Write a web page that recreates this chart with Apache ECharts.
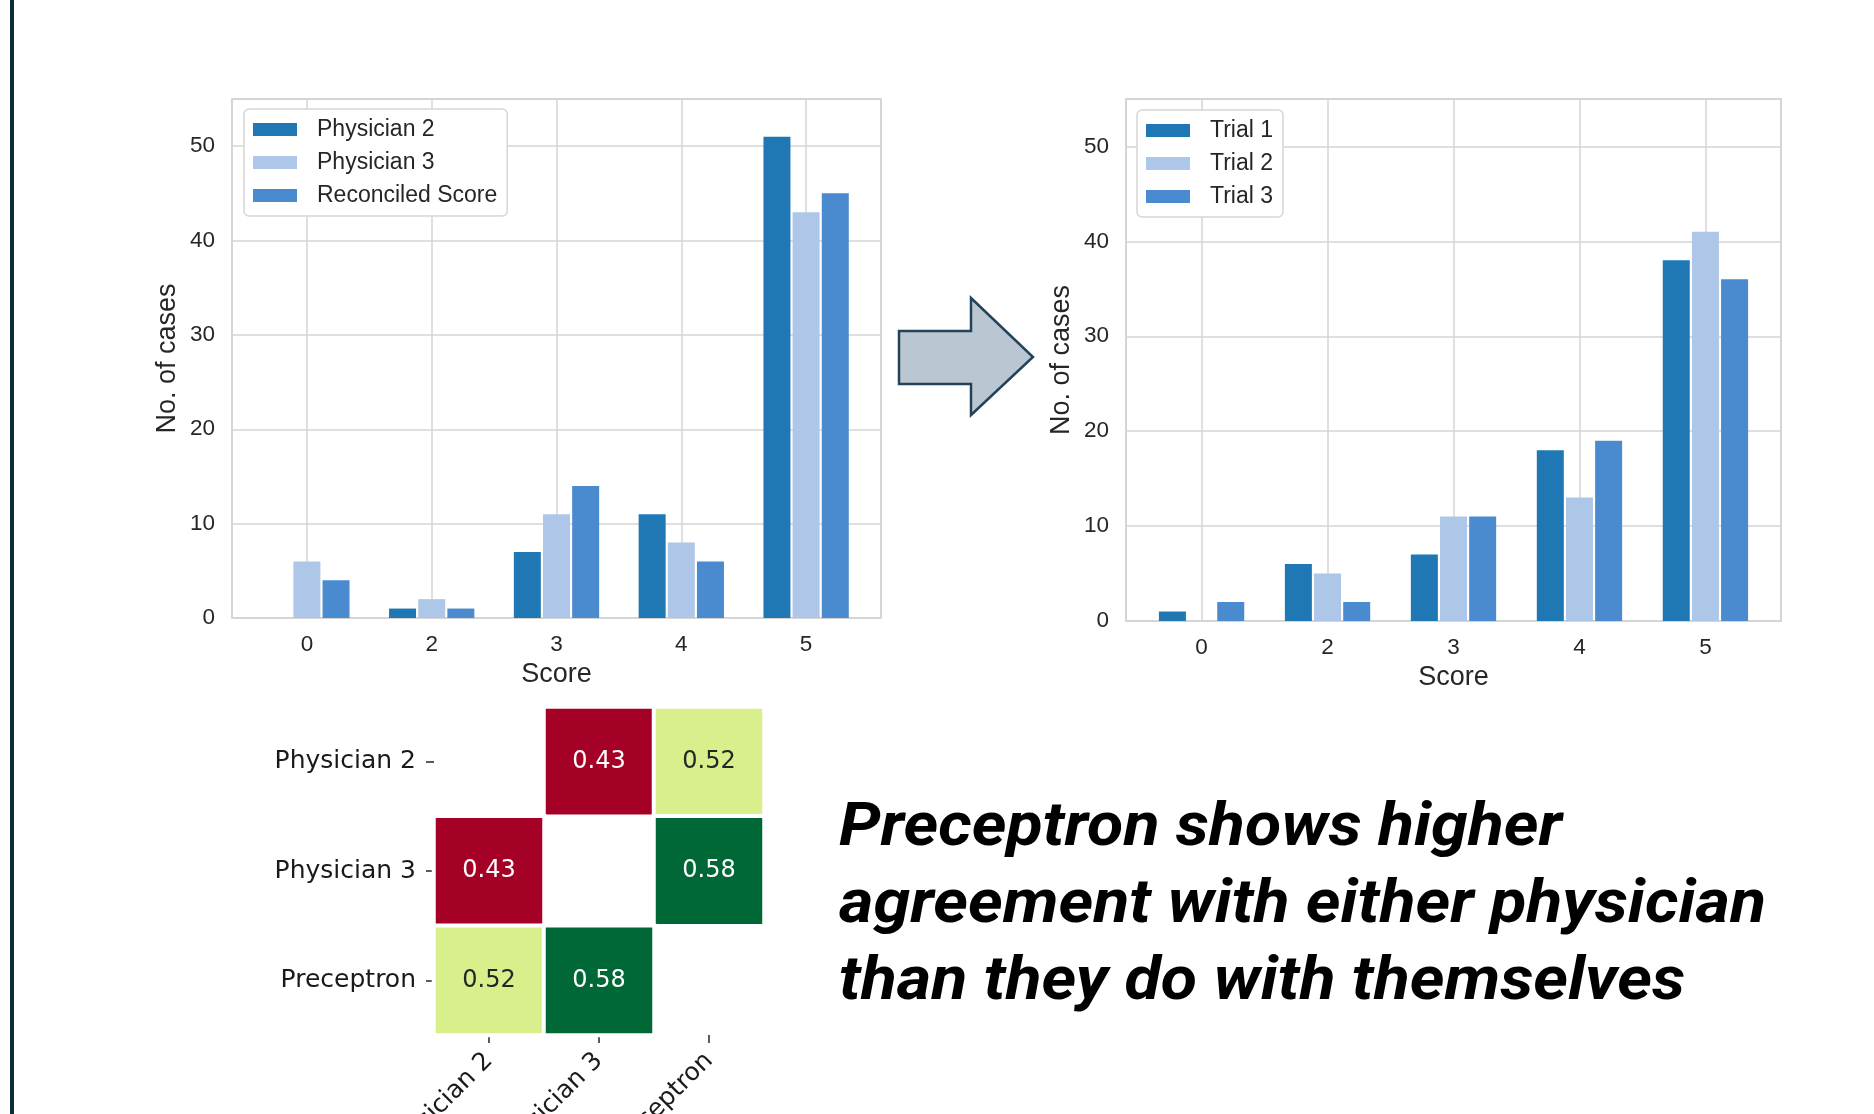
<!DOCTYPE html>
<html>
<head>
<meta charset="utf-8">
<script src="https://cdn.jsdelivr.net/npm/echarts@6/dist/echarts.min.js"></script>
<style>
  html, body { margin: 0; padding: 0; background: #ffffff; }
  #chart { width: 1874px; height: 1114px; }
</style>
</head>
<body>
<div id="chart"></div>
<script>
// Score categories shared by both histograms
const scoreLabels = ['0', '2', '3', '4', '5'];

// Human raters vs. reconciled score (cases per score)
const physician2 = [0, 1, 7, 11, 51];
const physician3 = [6, 2, 11, 8, 43];
const reconciled = [4, 1, 14, 6, 45];

// Repeated model runs (cases per score)
const trial1 = [1, 6, 7, 18, 38];
const trial2 = [0, 5, 11, 13, 41];
const trial3 = [2, 2, 11, 19, 36];

// Pairwise agreement between raters: [row, column, value]
const raters = ['Physician 2', 'Physician 3', 'Preceptron'];
const agreement = [
  [0, 1, 0.43], [0, 2, 0.52],
  [1, 0, 0.43], [1, 2, 0.58],
  [2, 0, 0.52], [2, 1, 0.58]
];

// Take-away statement
const headline = [
  'Preceptron shows higher',
  'agreement with either physician',
  'than they do with themselves'
];

const SANS = '"Liberation Sans", Arial, Helvetica, sans-serif';
const DEJAVU = '"DejaVu Sans", sans-serif';
const INK = '#262626';
const GRIDLINE = '#d5d5d5';
const BLUES = ['#1f77b4', '#aec7e8', '#4a8bcf'];
const RDYLGN = ['#a50026', '#d73027', '#f46d43', '#fdae61', '#fee08b', '#ffffbf',
                '#d9ef8b', '#a6d96a', '#66bd63', '#1a9850', '#006837'];

const chart = echarts.init(document.getElementById('chart'), null, { renderer: 'canvas' });

function scoreAxisX(gridIndex) {
  return {
    type: 'value', gridIndex, min: -0.6, max: 4.6, splitNumber: 5,
    axisLine: { show: false }, axisTick: { show: false },
    axisLabel: {
      fontSize: 22.5, color: INK, fontFamily: SANS, margin: 15,
      formatter: v => (Math.abs(v - Math.round(v)) < 1e-9 && scoreLabels[Math.round(v)] !== undefined)
        ? scoreLabels[Math.round(v)] : ''
    },
    splitLine: { show: true, lineStyle: { color: GRIDLINE, width: 1.5 } },
    name: 'Score', nameLocation: 'middle', nameGap: 43,
    nameTextStyle: { fontSize: 27, color: INK, fontFamily: SANS }
  };
}

function countAxisY(gridIndex) {
  return {
    type: 'value', gridIndex, min: 0, max: 55, interval: 10,
    axisLine: { show: false }, axisTick: { show: false },
    axisLabel: {
      fontSize: 22.5, color: INK, fontFamily: SANS, margin: 17,
      formatter: v => (v % 10 === 0 ? String(v) : '')
    },
    splitLine: { show: true, lineStyle: { color: GRIDLINE, width: 1.5 } },
    name: 'No. of cases', nameLocation: 'middle', nameGap: 51, nameRotate: 90,
    nameTextStyle: { fontSize: 27, color: INK, fontFamily: SANS }
  };
}

function barSeries(name, values, axisIndex, color) {
  return {
    type: 'bar', name,
    xAxisIndex: axisIndex, yAxisIndex: axisIndex,
    data: values.map((v, i) => [i, v]),
    barWidth: 27, barGap: '8%',
    itemStyle: { color },
    emphasis: { disabled: true }
  };
}

function countLegend(names, left, top) {
  return {
    data: names, orient: 'vertical', left, top,
    icon: 'rect', itemWidth: 44, itemHeight: 13, itemGap: 10,
    backgroundColor: '#ffffff', borderColor: '#d6d6d6', borderWidth: 1.5, borderRadius: 5,
    padding: [9, 10, 9, 9],
    selectedMode: false,
    textStyle: { fontSize: 23, color: INK, fontFamily: SANS, padding: [0, 0, 0, 15] }
  };
}

// Condense the headline so its longest line spans the text column
const HEAD_FONT = 'italic bold 60px Roboto, "Noto Sans", sans-serif';
const ctx = document.createElement('canvas').getContext('2d');
ctx.font = HEAD_FONT;
const widest = Math.max(...headline.map(t => ctx.measureText(t).width));
const headScale = 927 / widest;

const heatData = agreement.map(([r, c, v]) => {
  const t = (v - 0.43) / (0.58 - 0.43);
  const light = t > 0.3 && t < 0.75;
  return { value: [c, r, v], label: { color: light ? INK : '#ffffff' } };
});

const GRID_COMMON = { containLabel: false, outerBoundsMode: 'none' };

const option = {
  animation: false,
  backgroundColor: '#ffffff',
  grid: [
    Object.assign({ left: 232, top: 99, width: 649, height: 519, show: true, borderColor: '#cccccc', borderWidth: 1.5, backgroundColor: 'transparent' }, GRID_COMMON),
    Object.assign({ left: 1126, top: 99, width: 655, height: 522, show: true, borderColor: '#cccccc', borderWidth: 1.5, backgroundColor: 'transparent' }, GRID_COMMON),
    Object.assign({ left: 434, top: 707, width: 330, height: 328 }, GRID_COMMON)
  ],
  xAxis: [
    scoreAxisX(0),
    scoreAxisX(1),
    {
      type: 'category', gridIndex: 2, data: raters, position: 'bottom',
      axisLine: { show: false },
      axisTick: { show: true, alignWithLabel: true, length: 8, lineStyle: { color: INK, width: 1.5 } },
      axisLabel: { rotate: 45, fontSize: 25, color: '#1a1a1a', fontFamily: DEJAVU, margin: 22 },
      splitLine: { show: false }
    }
  ],
  yAxis: [
    countAxisY(0),
    countAxisY(1),
    {
      type: 'category', gridIndex: 2, data: raters, inverse: true,
      axisLine: { show: false },
      axisTick: { show: true, alignWithLabel: true, length: 8, lineStyle: { color: INK, width: 1.5 } },
      axisLabel: { fontSize: 25, color: '#1a1a1a', fontFamily: DEJAVU, margin: 18 },
      splitLine: { show: false }
    }
  ],
  legend: [
    countLegend(['Physician 2', 'Physician 3', 'Reconciled Score'], 244, 109),
    countLegend(['Trial 1', 'Trial 2', 'Trial 3'], 1137, 110)
  ],
  visualMap: {
    type: 'continuous', show: false, seriesIndex: 6,
    min: 0.43, max: 0.58, dimension: 2,
    inRange: { color: RDYLGN }
  },
  series: [
    barSeries('Physician 2', physician2, 0, BLUES[0]),
    barSeries('Physician 3', physician3, 0, BLUES[1]),
    barSeries('Reconciled Score', reconciled, 0, BLUES[2]),
    barSeries('Trial 1', trial1, 1, BLUES[0]),
    barSeries('Trial 2', trial2, 1, BLUES[1]),
    barSeries('Trial 3', trial3, 1, BLUES[2]),
    {
      type: 'heatmap', xAxisIndex: 2, yAxisIndex: 2,
      data: heatData,
      itemStyle: { borderColor: '#ffffff', borderWidth: 4 },
      label: {
        show: true, fontSize: 24, fontFamily: DEJAVU,
        formatter: p => p.value[2].toFixed(2)
      },
      emphasis: { disabled: true }
    }
  ],
  graphic: [
    // page margin rule
    { type: 'rect', shape: { x: 10, y: 0, width: 4, height: 1114 }, style: { fill: '#0e2b3c' }, silent: true },
    // arrow between the two histograms
    {
      type: 'polygon', silent: true,
      shape: { points: [[899, 331], [971, 331], [971, 298], [1033, 357], [971, 415], [971, 384], [899, 384]] },
      style: { fill: '#bac7d3', stroke: '#24435a', lineWidth: 2.5, lineJoin: 'miter' }
    },
    ...headline.map((t, i) => ({
      type: 'text', silent: true,
      x: 839, y: 830 + i * 77,
      scaleX: headScale, scaleY: 1,
      style: {
        text: t, font: HEAD_FONT, fill: '#000000',
        textAlign: 'left', textVerticalAlign: 'middle', verticalAlign: 'middle'
      }
    }))
  ]
};

chart.setOption(option);
</script>
</body>
</html>
